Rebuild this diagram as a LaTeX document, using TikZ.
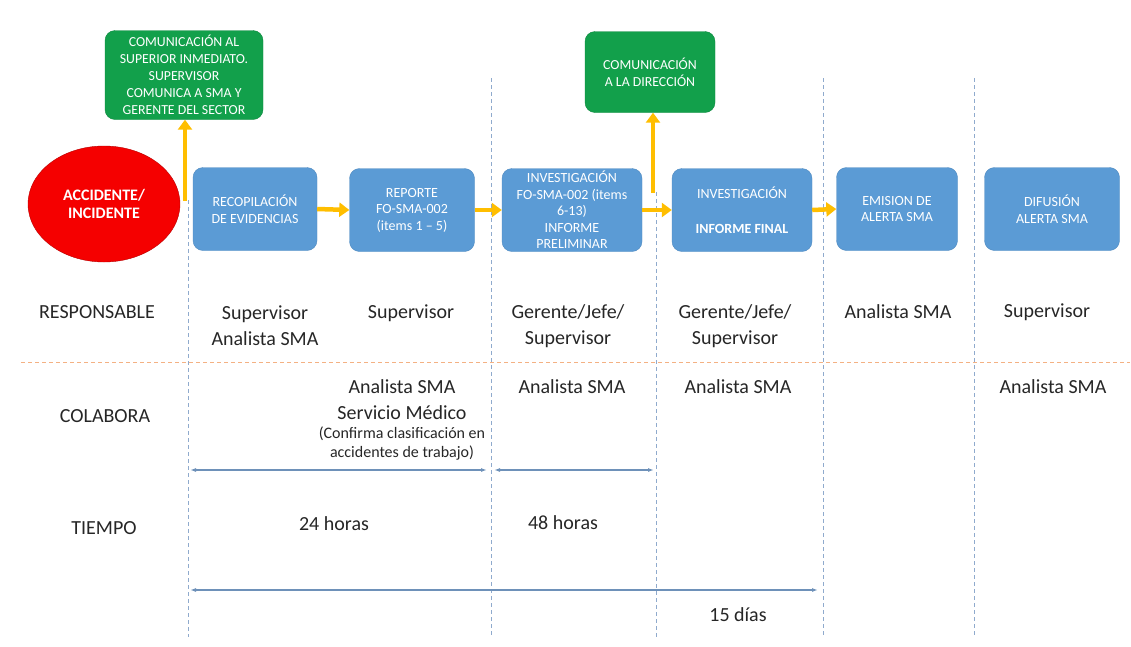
\documentclass[tikz,border=0pt]{standalone}
\usepackage{fontspec}
\setmainfont{Carlito}
\usepackage{tikz}
\usepackage{xcolor}
\usetikzlibrary{arrows.meta}
\usetikzlibrary{shapes}

\definecolor{kastenblau}{RGB}{91,155,213}
\definecolor{kastenrand}{RGB}{80,138,192}
\definecolor{kastengruen}{RGB}{18,160,75}
\definecolor{pfeilgelb}{RGB}{255,190,0}
\definecolor{unfallrot}{RGB}{245,0,0}
\definecolor{rastergrau}{RGB}{143,170,205}
\definecolor{trennorange}{RGB}{244,177,131}
\definecolor{zeitblau}{RGB}{110,145,185}

\begin{document}
\begin{tikzpicture}[x=1pt,y=-1pt,
  kasten/.style={rectangle, rounded corners=10pt, fill=kastenblau, draw=kastenrand,
    text=white, align=center, minimum height=83pt, inner sep=2pt,
    font=\fontsize{14}{16.5}\selectfont},
  meldung/.style={rectangle, rounded corners=10pt, fill=kastengruen, draw=kastengruen!85!black,
    text=white, align=center, inner sep=2pt, font=\fontsize{13.8}{17}\selectfont},
  gelbpfeil/.style={draw=pfeilgelb, line width=4.5pt, -{Triangle[length=10pt,width=14pt]}},
  raster/.style={draw=rastergrau, line width=0.8pt, dash pattern=on 4pt off 3pt},
  zeitpfeil/.style={draw=zeitblau, line width=1.2pt, {Latex[length=6pt,width=4pt]}-{Latex[length=6pt,width=4pt]}},
  beschriftung/.style={text=black!85, align=center, font=\fontsize{20}{26}\selectfont}]

\useasboundingbox (0,0) rectangle (1131,646);

% Rasterlinien:
\foreach \x/\y in {188/200, 491/78, 656/192, 823/78, 974/78}
  \draw[raster] (\x,\y) -- (\x,637);
\draw[draw=trennorange, line width=0.8pt, dash pattern=on 4pt off 3pt] (21,362) -- (1130,362);

% Ablauf oben:
\node[ellipse, fill=unfallrot, draw=unfallrot!75!black, minimum width=152pt, minimum height=116pt,
  text=white, align=center, font=\bfseries\fontsize{16}{18}\selectfont] (accidente) at (104,204) {ACCIDENTE/\\INCIDENTE};
\node[kasten, minimum width=124pt] (recopilacion) at (255,209) {RECOPILACIÓN\\DE EVIDENCIAS};
\node[kasten, minimum width=125pt] (reporte) at (412,210) {REPORTE\\FO-SMA-002\\(items 1 -- 5)};
\node[kasten, minimum width=140pt] (investigacion) at (572,210) {INVESTIGACIÓN\\FO-SMA-002 (items\\6-13)\\INFORME\\PRELIMINAR};
\node[kasten, minimum width=140pt] (informe) at (742,210) {INVESTIGACIÓN\\[18pt]\textbf{INFORME FINAL}};
\node[kasten, minimum width=121pt] (emision) at (897,209) {EMISION DE\\ALERTA SMA};
\node[kasten, minimum width=135pt] (difusion) at (1052,209) {DIFUSIÓN\\ALERTA SMA};

\node[meldung, minimum width=158pt, minimum height=89pt] (comsup) at (184,75)
  {COMUNICACIÓN AL\\SUPERIOR INMEDIATO.\\SUPERVISOR\\COMUNICA A SMA Y\\GERENTE DEL SECTOR};
\node[meldung, minimum width=130pt, minimum height=81pt] (comdir) at (650,72) {COMUNICACIÓN\\A LA DIRECCIÓN};

% gelbe Pfeile:
\draw[gelbpfeil] (recopilacion.east) -- (reporte.west);
\draw[gelbpfeil] (reporte.east) -- (investigacion.west);
\draw[gelbpfeil] (investigacion.east) -- (informe.west);
\draw[gelbpfeil] (informe.east) -- (emision.west);
\coordinate (aufsup) at (185,201);
\coordinate (aufdir) at (653,193);
\draw[gelbpfeil] (aufsup) -- (aufsup |- comsup.south);
\draw[gelbpfeil] (aufdir) -- (aufdir |- comdir.south);

% Zeilen:
\node[beschriftung] (responsable) at (97,312) {RESPONSABLE};
\node[beschriftung] (colabora) at (105,416) {COLABORA};
\node[beschriftung] (tiempo) at (104,528) {TIEMPO};

\node[beschriftung] (resp1) at (265,326) {Supervisor\\Analista SMA};
\node[beschriftung] (resp2) at (411,313) {Supervisor};
\node[beschriftung] (resp3) at (568,326) {Gerente/Jefe/\\Supervisor};
\node[beschriftung] (resp4) at (735,326) {Gerente/Jefe/\\Supervisor};
\node[beschriftung] (resp5) at (898,312) {Analista SMA};
\node[beschriftung] (resp6) at (1047,312) {Supervisor};

\node[beschriftung] (cola2) at (402,400) {Analista SMA\\Servicio Médico};
\node[beschriftung, font=\fontsize{16}{19}\selectfont] (cola2b) at (402,444) {(Confirma clasificación en\\accidentes de trabajo)};
\node[beschriftung] (cola3) at (572,387) {Analista SMA};
\node[beschriftung] (cola4) at (738,387) {Analista SMA};
\node[beschriftung] (cola6) at (1053,387) {Analista SMA};

% Zeitachsen:
\coordinate (t0) at (190,470);
\coordinate (t1) at (487,470);
\coordinate (t2) at (494,470);
\coordinate (t3) at (654,470);
\coordinate (t4) at (190,590);
\coordinate (t5) at (818,590);
\draw[zeitpfeil] (t0) -- (t1);
\draw[zeitpfeil] (t2) -- (t3);
\draw[zeitpfeil] (t4) -- (t5);
\node[beschriftung] (horas24) at (334,524) {24 horas};
\node[beschriftung] (horas48) at (563,523) {48 horas};
\node[beschriftung] (dias15) at (738,615) {15 días};
\end{tikzpicture}
\end{document}
